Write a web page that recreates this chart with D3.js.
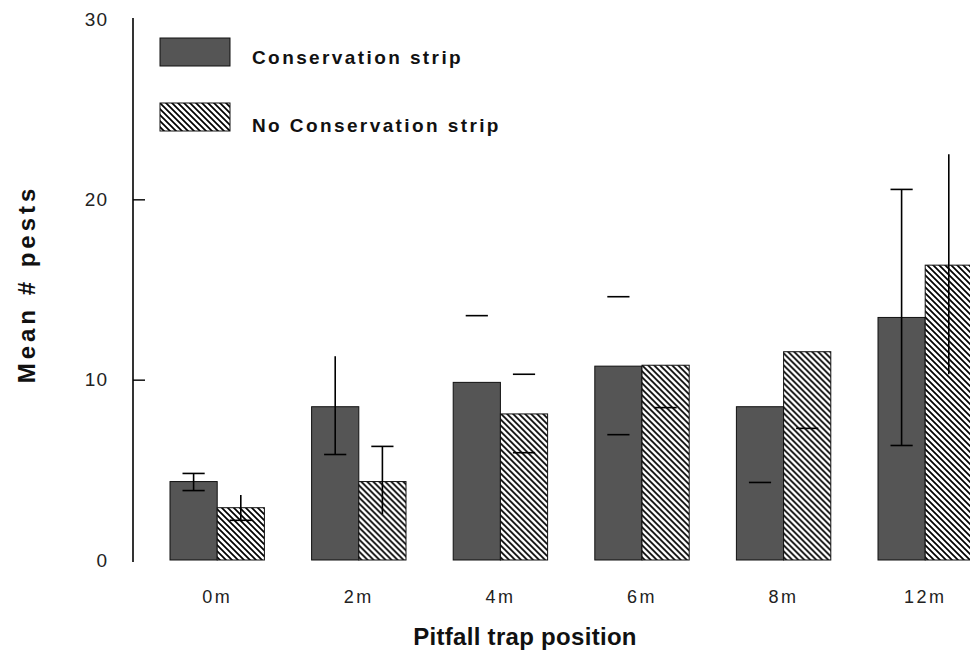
<!DOCTYPE html>
<html>
<head>
<meta charset="utf-8">
<script src="https://cdn.jsdelivr.net/npm/d3@7"></script>
<style>
  body { margin: 0; background: #fff; }
  svg { display: block; }
  text { font-family: "Liberation Sans", Arial, sans-serif; }
</style>
</head>
<body>
<svg width="970" height="659"></svg>
<script>
// DATA
var categories = ["0m", "2m", "4m", "6m", "8m", "12m"];
var consMean = [4.35, 8.5, 9.85, 10.75, 8.5, 13.45];
var noConsMean = [2.9, 4.35, 8.1, 10.8, 11.55, 16.35];
// error bar ends as visible in the picture (null = not shown)
var consLow = [3.85, 5.85, null, 6.95, 4.3, 6.35];
var consHigh = [4.8, 11.3, 13.55, 14.6, null, 20.55];
var noConsLow = [2.2, 2.55, 5.95, 8.45, 7.3, 10.3];
var noConsHigh = [3.6, 6.3, 10.3, null, null, 22.5];
var yTicks = [0, 10, 20, 30];
var seriesNames = ["Conservation strip", "No Conservation strip"];

// how each error bar is drawn in the original (stem, top cap, bottom cap)
var consStem = [1, 1, 0, 0, 0, 1], consCapHi = [1, 0, 1, 1, 0, 1], consCapLo = [1, 1, 0, 1, 1, 1];
var noStem = [1, 1, 0, 0, 0, 1], noCapHi = [0, 1, 1, 0, 0, 0], noCapLo = [1, 0, 1, 1, 1, 0];

// SETUP
var svg = d3.select("svg");
var dark = "#555555";

var defs = svg.append("defs");
var pat = defs.append("pattern")
  .attr("id", "hatch")
  .attr("patternUnits", "userSpaceOnUse")
  .attr("width", 6)
  .attr("height", 6);
pat.append("rect").attr("width", 6).attr("height", 6).attr("fill", "#fff");
pat.append("path")
  .attr("d", "M-1,-1 L7,7 M-4,2 L2,8 M4,-2 L8,2")
  .attr("stroke", "#000")
  .attr("stroke-width", 1.7);

var x = d3.scaleBand()
  .domain(categories)
  .range([170, 170 + 141.6 * (6 - 1 / 3)])
  .paddingInner(1 / 3)
  .paddingOuter(0);

var x1 = d3.scaleBand()
  .domain(["cons", "no"])
  .range([0, x.bandwidth()]);

var y = d3.scaleLinear()
  .domain([0, 30])
  .range([560, 19]);

// y axis
var yAxis = svg.append("g")
  .attr("transform", "translate(133,0)")
  .call(d3.axisRight(y).tickValues(yTicks).tickSize(12).tickFormat(""));
yAxis.select(".domain").attr("d", "M0," + (y(30) - 1) + "V" + (y(0) + 2)).attr("stroke-width", 1.6);
yAxis.selectAll(".tick line")
  .attr("stroke-width", 1.4)
  .attr("opacity", function (d) { return d === 0 || d === 30 ? 0 : 1; });

svg.append("g").selectAll("text")
  .data(yTicks)
  .enter().append("text")
  .attr("x", 108)
  .attr("y", function (d) { return y(d); })
  .attr("dy", "0.35em")
  .attr("text-anchor", "end")
  .attr("font-size", 19)
  .attr("letter-spacing", 1)
  .attr("fill", "#222")
  .text(function (d) { return d; });

// bars
var groups = svg.append("g").selectAll("g")
  .data(categories)
  .enter().append("g")
  .attr("transform", function (d) { return "translate(" + x(d) + ",0)"; });

groups.append("rect")
  .attr("x", x1("cons"))
  .attr("width", x1.bandwidth())
  .attr("y", function (d, i) { return y(consMean[i]); })
  .attr("height", function (d, i) { return y(0) - y(consMean[i]); })
  .attr("fill", dark)
  .attr("stroke", "#111")
  .attr("stroke-width", 1);

groups.append("rect")
  .attr("x", x1("no"))
  .attr("width", x1.bandwidth())
  .attr("y", function (d, i) { return y(noConsMean[i]); })
  .attr("height", function (d, i) { return y(0) - y(noConsMean[i]); })
  .attr("fill", "url(#hatch)")
  .attr("stroke", "#111")
  .attr("stroke-width", 1);

// error bars
var capW = x1.bandwidth() * 0.47;
function errorBars(key, low, high, stem, capHi, capLo) {
  var cx = x1(key) + x1.bandwidth() / 2;
  groups.each(function (d, i) {
    var g = d3.select(this);
    if (stem[i] && low[i] != null && high[i] != null) {
      g.append("line")
        .attr("x1", cx).attr("x2", cx)
        .attr("y1", y(high[i])).attr("y2", y(low[i]))
        .attr("stroke", "#000").attr("stroke-width", 1.6);
    }
    if (capHi[i] && high[i] != null) {
      g.append("line")
        .attr("x1", cx - capW / 2).attr("x2", cx + capW / 2)
        .attr("y1", y(high[i])).attr("y2", y(high[i]))
        .attr("stroke", "#000").attr("stroke-width", 1.6);
    }
    if (capLo[i] && low[i] != null) {
      g.append("line")
        .attr("x1", cx - capW / 2).attr("x2", cx + capW / 2)
        .attr("y1", y(low[i])).attr("y2", y(low[i]))
        .attr("stroke", "#000").attr("stroke-width", 1.6);
    }
  });
}
errorBars("cons", consLow, consHigh, consStem, consCapHi, consCapLo);
errorBars("no", noConsLow, noConsHigh, noStem, noCapHi, noCapLo);

// x labels
svg.append("g").selectAll("text")
  .data(categories)
  .enter().append("text")
  .attr("x", function (d) { return x(d) + x.bandwidth() / 2; })
  .attr("y", 597)
  .attr("dy", "0.35em")
  .attr("text-anchor", "middle")
  .attr("font-size", 18)
  .attr("letter-spacing", 2.5)
  .attr("fill", "#222")
  .text(function (d) { return d; });

// axis titles
svg.append("text")
  .attr("x", 525)
  .attr("y", 637)
  .attr("dy", "0.35em")
  .attr("text-anchor", "middle")
  .attr("font-size", 24)
  .attr("font-weight", "bold")
  .attr("letter-spacing", 0.3)
  .attr("fill", "#111")
  .text("Pitfall trap position");

svg.append("text")
  .attr("transform", "translate(27,284) rotate(-90)")
  .attr("dy", "0.35em")
  .attr("text-anchor", "middle")
  .attr("font-size", 24)
  .attr("font-weight", "bold")
  .attr("letter-spacing", 4)
  .attr("fill", "#111")
  .text("Mean # pests");

// legend
var legend = svg.append("g").selectAll("g")
  .data(seriesNames)
  .enter().append("g")
  .attr("transform", function (d, i) { return "translate(160," + (38 + i * 65) + ")"; });

legend.append("rect")
  .attr("width", 70)
  .attr("height", 28)
  .attr("fill", function (d, i) { return i === 0 ? dark : "url(#hatch)"; })
  .attr("stroke", "#111")
  .attr("stroke-width", 1);

legend.append("text")
  .attr("x", 92)
  .attr("y", function (d, i) { return i === 0 ? 19 : 22; })
  .attr("dy", "0.35em")
  .attr("font-size", 19)
  .attr("font-weight", "bold")
  .attr("letter-spacing", 2.4)
  .attr("fill", "#111")
  .text(function (d) { return d; });
</script>
</body>
</html>
